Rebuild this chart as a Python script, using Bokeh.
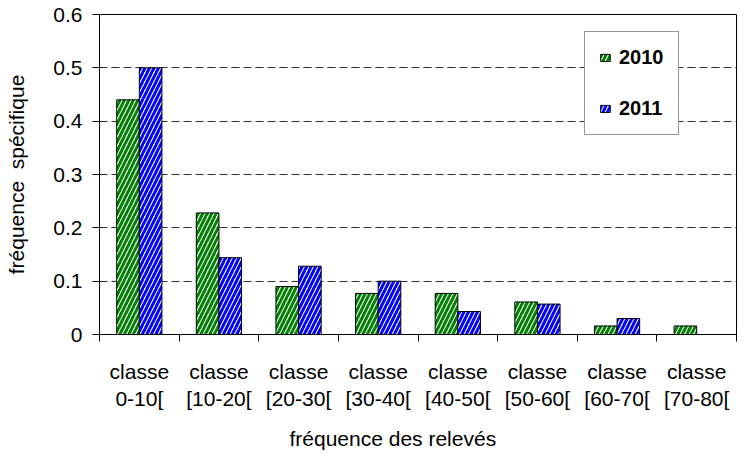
import numpy as np
from bokeh.plotting import figure
from bokeh.models import Range1d, FixedTicker, Legend, LegendItem, Title
from bokeh.embed import file_html
from bokeh.resources import INLINE

categories = ["classe\n0-10[", "classe\n[10-20[", "classe\n[20-30[", "classe\n[30-40[",
              "classe\n[40-50[", "classe\n[50-60[", "classe\n[60-70[", "classe\n[70-80["]
values_2010 = [0.44, 0.228, 0.090, 0.077, 0.077, 0.061, 0.016, 0.016]
values_2011 = [0.50, 0.144, 0.128, 0.100, 0.043, 0.057, 0.030, 0.0]
y_ticks = [0, 0.1, 0.2, 0.3, 0.4, 0.5, 0.6]
y_tick_labels = ["0", "0.1", "0.2", "0.3", "0.4", "0.5", "0.6"]
x_title = "fréquence des relevés"
y_title = "fréquence\u00a0 spécifique"

FONT = "Liberation Sans"
n = len(categories)
centers = np.arange(n) + 0.5
bw = 0.284

p = figure(width=737, height=463, output_backend="svg", toolbar_location=None,
           x_range=Range1d(0, n), y_range=Range1d(0, 0.6),
           min_border_left=99, min_border_right=1, min_border_top=14, min_border_bottom=129)
p.background_fill_color = "white"
p.border_fill_color = "white"
p.outline_line_color = "black"
p.outline_line_width = 1

r1 = p.vbar(x=centers - bw / 2, top=values_2010, width=bw, bottom=0,
            fill_color="white", line_color="black", line_width=1,
            hatch_pattern="/", hatch_color="#008000", hatch_scale=9, hatch_weight=3)
r2 = p.vbar(x=centers + bw / 2, top=values_2011, width=bw, bottom=0,
            fill_color="white", line_color="black", line_width=1,
            hatch_pattern="/", hatch_color="#0000FF", hatch_scale=9, hatch_weight=3)

# x axis
xa = p.xaxis[0]
xa.ticker = FixedTicker(ticks=list(centers), minor_ticks=list(np.arange(n + 1)))
xa.major_label_overrides = {float(c): lab for c, lab in zip(centers, categories)}
xa.major_tick_out = 0
xa.major_tick_in = 0
xa.minor_tick_out = 7
xa.minor_tick_in = 0
xa.minor_tick_line_color = "black"
xa.axis_line_color = "black"
xa.major_label_text_font = FONT
xa.major_label_text_font_size = "21px"
xa.major_label_text_color = "black"
xa.major_label_text_align = "center"
xa.major_label_standoff = 18
xa.major_label_text_line_height = 1.2

xtitle = Title(text=x_title, align="left", offset=190,
               text_font=FONT, text_font_size="21px", text_font_style="normal",
               text_color="black", standoff=22)
p.add_layout(xtitle, "below")

# y axis
ya = p.yaxis[0]
ya.ticker = FixedTicker(ticks=y_ticks)
ya.major_label_overrides = {float(t): lab for t, lab in zip(y_ticks, y_tick_labels)}
ya.major_tick_out = 7
ya.major_tick_in = 2
ya.minor_tick_out = 0
ya.minor_tick_in = 0
ya.axis_line_color = "black"
ya.major_label_text_font = FONT
ya.major_label_text_font_size = "21px"
ya.major_label_text_color = "black"
ya.major_label_standoff = 10
ya.axis_label = y_title
ya.axis_label_text_font = FONT
ya.axis_label_text_font_size = "21px"
ya.axis_label_text_font_style = "normal"
ya.axis_label_text_color = "black"
ya.axis_label_standoff = 22

p.xgrid.visible = False
p.ygrid[0].ticker = FixedTicker(ticks=y_ticks[1:-1])
p.ygrid[0].grid_line_color = "#333333"
p.ygrid[0].grid_line_dash = "8 4"
p.ygrid[0].grid_line_width = 1

legend = Legend(items=[LegendItem(label="2010", renderers=[r1]),
                       LegendItem(label="2011", renderers=[r2])],
                location=(485, 199))
legend.label_text_font = FONT
legend.label_text_font_size = "20px"
legend.label_text_font_style = "bold"
legend.label_text_color = "black"
legend.label_height = 12
legend.glyph_height = 9
legend.glyph_width = 12
legend.label_standoff = 8
legend.padding = 14
legend.spacing = 28
legend.margin = 0
legend.border_line_color = "#333333"
legend.border_line_width = 1
legend.background_fill_color = "white"
legend.background_fill_alpha = 1
p.add_layout(legend, "center")

open("out.html", "w").write(file_html(p, INLINE))
